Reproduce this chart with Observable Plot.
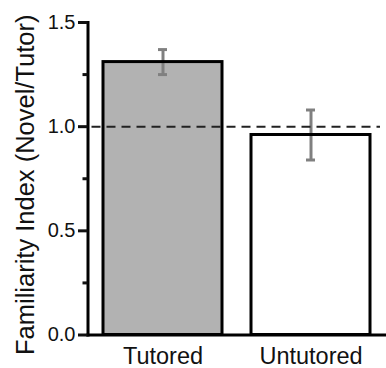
<!DOCTYPE html>
<html>
<head>
<meta charset="utf-8">
<script src="https://cdn.jsdelivr.net/npm/d3@7"></script>
<script src="https://cdn.jsdelivr.net/npm/@observablehq/plot@0.6"></script>
<style>
  html, body { margin: 0; padding: 0; background: #fff; }
  #chart { width: 386px; height: 368px; }
</style>
</head>
<body>
<div id="chart"></div>
<script>
const groups = ["Tutored", "Untutored"];
const means = [1.31, 0.96];
const sems = [0.06, 0.12];
const fills = ["#b2b2b2", "#ffffff"];
const yTicks = [0, 0.5, 1.0, 1.5];
const yMinorTicks = [0.25, 0.75, 1.25];
const refLine = 1.0;
const yTitle = "Familiarity Index (Novel/Tutor)";

const data = groups.map((g, i) => ({group: g, mean: means[i], sem: sems[i], fill: fills[i]}));

const chart = Plot.plot({
  width: 386,
  height: 368,
  marginLeft: 87.5,
  marginRight: 0,
  marginTop: 22,
  marginBottom: 33.5,
  style: {fontFamily: "'Liberation Sans', Arial, sans-serif", background: "white", color: "#111"},
  x: {domain: groups, paddingInner: 0.195, paddingOuter: 0.102, label: null},
  y: {domain: [0, 1.5], label: null},
  color: {type: "identity"},
  marks: [
    Plot.barY(data, {x: "group", y: "mean", fill: "fill"}),
    Plot.ruleX(data, {x: "group", y1: d => d.mean - d.sem, y2: d => d.mean + d.sem, stroke: "#808080", strokeWidth: 3}),
    Plot.tickY(data, {x: "group", y: d => d.mean + d.sem, stroke: "#808080", strokeWidth: 3, insetLeft: 55, insetRight: 55}),
    Plot.tickY(data, {x: "group", y: d => d.mean - d.sem, stroke: "#808080", strokeWidth: 3, insetLeft: 55, insetRight: 55}),
    Plot.barY(data, {x: "group", y: "mean", fill: "none", stroke: "black", strokeWidth: 3}),
    Plot.ruleY([refLine], {stroke: "#222", strokeWidth: 2, strokeDasharray: "9,6", strokeDashoffset: 11, insetRight: 6}),
    Plot.frame({anchor: "left", stroke: "black", strokeWidth: 3}),
    Plot.frame({anchor: "bottom", stroke: "black", strokeWidth: 3}),
    Plot.axisY(yTicks, {tickSize: 9.5, tickPadding: 3, tickFormat: d3.format(".1f"), fontSize: 20, strokeWidth: 3, label: null}),
    Plot.axisY(yMinorTicks, {tickSize: 5, tickFormat: () => "", strokeWidth: 3, label: null}),
    Plot.axisX({tickSize: 0, tickPadding: 12, fontSize: 23.5, label: null}),
    Plot.text([yTitle], {frameAnchor: "left", text: d => d, rotate: -90, dx: -54.5, dy: 6, fontSize: 25.5, textAnchor: "middle", lineAnchor: "bottom", fill: "#111"})
  ]
});
document.getElementById("chart").appendChild(chart);
</script>
</body>
</html>
